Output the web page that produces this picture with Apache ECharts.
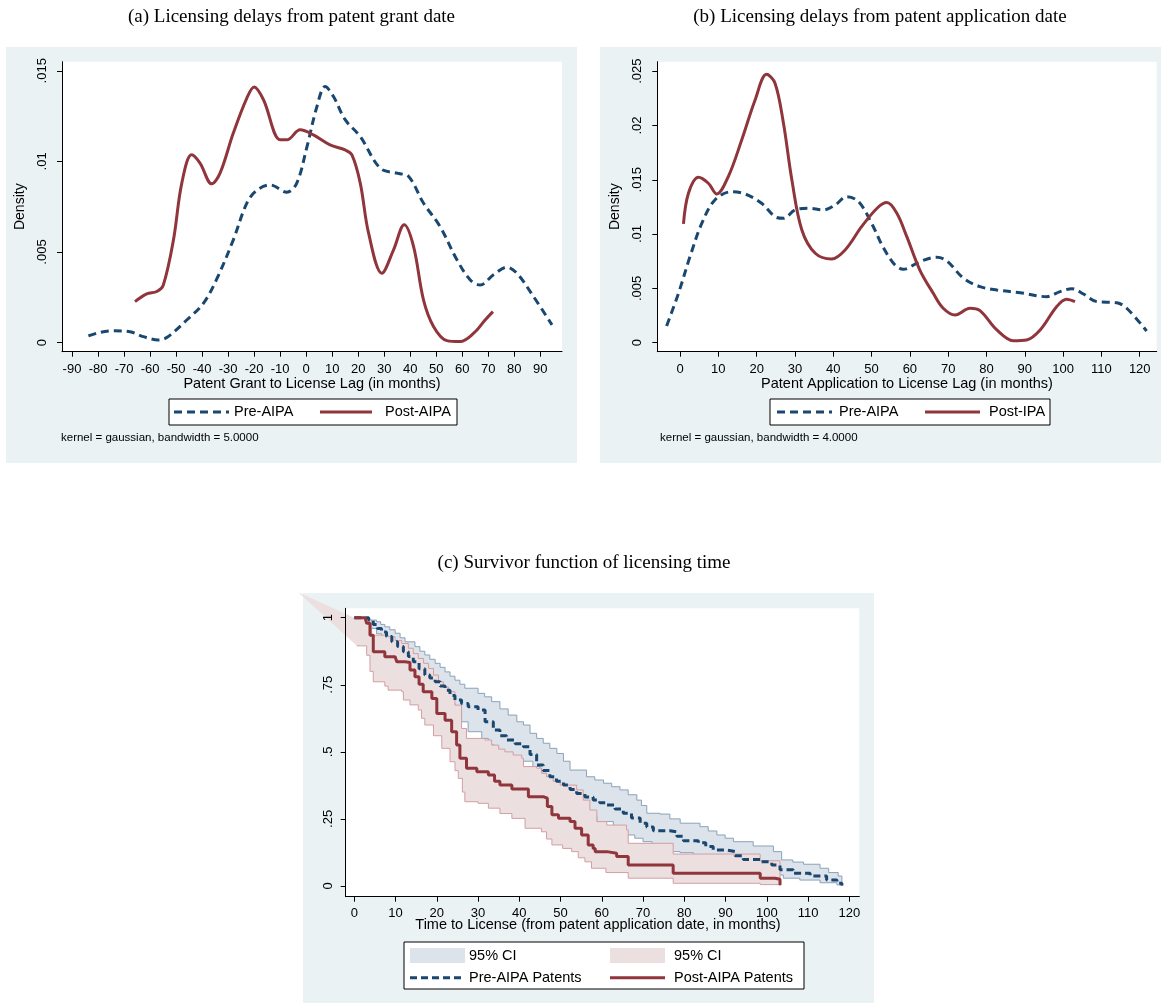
<!DOCTYPE html>
<html><head><meta charset="utf-8">
<script src="https://cdn.jsdelivr.net/npm/echarts@6/dist/echarts.min.js"></script>
<style>html,body{margin:0;padding:0;background:#fff}#c{width:1161px;height:1005px}</style>
</head><body><div id="c"></div><script>
// ---------- tick labels / axis ranges ----------
const aTicksX = [-90,-80,-70,-60,-50,-40,-30,-20,-10,0,10,20,30,40,50,60,70,80,90];
const aTicksY = [0,0.005,0.01,0.015];
const bTicksX = [0,10,20,30,40,50,60,70,80,90,100,110,120];
const bTicksY = [0,0.005,0.01,0.015,0.02,0.025];
const cTicksX = [0,10,20,30,40,50,60,70,80,90,100,110,120];
const cTicksY = [0,0.25,0.5,0.75,1];
const aRangeX = [-93.85, 98.35], aRangeY = [-0.0005, 0.0155];
const bRangeX = [-5.93, 124.43], bRangeY = [-0.00083, 0.02587];
const cRangeX = [-2.085, 122.42], cRangeY = [-0.04, 1.035];

// ---------- (a) kernel densities, grant to license lag ----------
const aPreX  = [-83.7,-79.2,-74.1,-67.7,-62.6,-56.8,-53.6,-45.9,-39.5,-34.4,-28,-22.8,-19,-13.8,-7.4,-3.6,0.3,4.1,7.3,10.5,15,20.8,28.5,34.9,39.4,45.1,51.5,58,63.1,66.9,72,77.2,81,87.4,94.5];
const aPreY  = [0.00037,0.00057,0.00065,0.0006,0.00033,0.00015,0.00028,0.00125,0.00217,0.0035,0.00567,0.0077,0.0084,0.0087,0.0083,0.0088,0.0108,0.013,0.01413,0.01358,0.0123,0.01137,0.00962,0.00935,0.00916,0.0077,0.0064,0.00456,0.00346,0.00318,0.00374,0.00416,0.00383,0.00254,0.00098];
const aPostX = [-65.8,-61.3,-57.4,-54.9,-51,-47.8,-44,-40.8,-36.3,-33.1,-28,-22.8,-20,-16.4,-10,-7.4,-2.3,2.8,9.2,15,17.6,20.8,24,29.1,33.6,37.7,41.3,45.1,49,54.1,59.2,64.4,68.8,71.8];
const aPostY = [0.00226,0.00269,0.00282,0.00318,0.00567,0.0088,0.01036,0.0099,0.00876,0.00935,0.01156,0.01349,0.0141,0.0134,0.01119,0.01119,0.01174,0.01146,0.01091,0.01063,0.01036,0.0088,0.00604,0.00383,0.00512,0.0065,0.0053,0.00236,0.00088,0.00011,0.00006,0.00052,0.00125,0.00171];

// ---------- (b) kernel densities, application to license lag ----------
const bPreX  = [-3.5,-0.4,2.6,5.7,9.1,13.5,17,21.3,24.8,27,30,33.5,37.4,40.5,43.5,46.6,50,53,56,58.3,62.6,67,69.6,74,78.3,82.7,88.8,95.7,99.2,102.3,105.3,108.8,114,116.6,121.8];
const bPreY  = [0.00154,0.00455,0.00792,0.011,0.01314,0.0139,0.01369,0.01284,0.0116,0.01145,0.01222,0.01238,0.01222,0.01268,0.01344,0.01298,0.011,0.0088,0.0072,0.00676,0.00746,0.00786,0.00755,0.00593,0.00516,0.00485,0.0046,0.00424,0.0047,0.00497,0.00448,0.00378,0.00368,0.00317,0.00108];
const bPostX = [0.9,2.2,4.8,7.4,9.6,12.6,16.1,19.6,22.6,24.8,27,29.2,31.8,35.3,39.6,43.1,47.4,51.5,54,56.6,59.2,62.6,66.1,68.7,71.8,75.7,78.3,82.7,87,90.5,94,98.3,100.9,103.1];
const bPostY = [0.01093,0.01376,0.01523,0.01468,0.01369,0.01529,0.01866,0.02235,0.02471,0.02389,0.0202,0.01498,0.01038,0.00823,0.00771,0.00854,0.01068,0.0124,0.0129,0.01192,0.00976,0.00669,0.00455,0.00317,0.00255,0.00317,0.00295,0.00117,0.00018,0.00025,0.00117,0.00331,0.004,0.00378];

// ---------- (c) Kaplan-Meier survivor functions [time, survival] ----------
const cPre = [[0,1],[3.5,0.99],[4.6,0.975],[5.6,0.96],[6.6,0.947],[7.8,0.93],[9.1,0.91],[10.5,0.893],[11.9,0.873],[13.1,0.855],[14.3,0.836],[15.7,0.81],[17.1,0.786],[18.3,0.775],[19.6,0.761],[20.8,0.745],[22,0.73],[23.2,0.71],[24.4,0.693],[26,0.68],[27.6,0.668],[30,0.656],[31.7,0.612],[33.7,0.581],[35.3,0.56],[36.9,0.544],[39,0.53],[41,0.519],[42.6,0.49],[44.2,0.451],[45.8,0.43],[47.4,0.407],[49,0.39],[50.7,0.376],[52.3,0.36],[53.9,0.345],[55.9,0.332],[57.9,0.32],[59.5,0.31],[61.2,0.302],[63.2,0.287],[65.2,0.271],[67.2,0.253],[69.3,0.234],[70.9,0.22],[72.5,0.206],[76.5,0.202],[78.2,0.185],[79.8,0.169],[83.4,0.161],[85.2,0.147],[87,0.134],[90.3,0.128],[92.3,0.113],[94.3,0.099],[98.4,0.09],[101.2,0.078],[103.2,0.06],[106.4,0.047],[110.5,0.037],[114.5,0.022],[117,0.01],[118.2,0.002]];
const cPost = [[0,1],[2.6,0.997],[3,0.979],[3.8,0.935],[4.6,0.873],[7.4,0.854],[9.9,0.851],[10.3,0.836],[12.3,0.833],[13.5,0.805],[14.7,0.78],[15.7,0.752],[16.7,0.724],[18.8,0.699],[20,0.643],[22,0.618],[23.6,0.575],[24.8,0.525],[25.6,0.476],[27.2,0.439],[29.7,0.426],[32.5,0.414],[34,0.39],[35.3,0.376],[38.2,0.361],[42.2,0.333],[45.8,0.327],[46.8,0.296],[47.9,0.265],[49.5,0.252],[52.3,0.24],[53.5,0.215],[55.1,0.19],[56.7,0.153],[57.9,0.14],[58.4,0.128],[61.2,0.122],[63.6,0.11],[66.4,0.078],[77.3,0.047],[98.4,0.029],[102,0.025],[103.2,0.004]];
const cPreUp = [[2.5,0.997],[3,0.991],[5.4,0.985],[6.4,0.975],[7.4,0.966],[8.6,0.955],[9.9,0.942],[11.1,0.925],[12.3,0.91],[14.7,0.892],[15.9,0.875],[17.1,0.861],[18.3,0.845],[19.6,0.83],[20.8,0.815],[22,0.798],[23.2,0.782],[24.4,0.767],[25.6,0.752],[26.8,0.737],[30,0.718],[31.6,0.705],[33.3,0.687],[35.3,0.66],[37.3,0.637],[39.4,0.612],[41,0.6],[42.6,0.569],[44.2,0.55],[45.8,0.532],[47.4,0.513],[49.1,0.494],[50.7,0.465],[52.3,0.432],[56.3,0.407],[58.3,0.395],[60.4,0.383],[62.4,0.37],[64.4,0.358],[66.4,0.34],[68.5,0.32],[69.6,0.3],[70.9,0.271],[74.1,0.268],[76.5,0.25],[79,0.234],[83.8,0.221],[85.8,0.205],[87.9,0.19],[89.9,0.178],[91.9,0.165],[96.7,0.149],[101.6,0.128],[103.6,0.097],[106.3,0.089],[108.9,0.081],[112.9,0.066],[115,0.05],[117.3,0.037],[118.2,0.037]];
const cPreLo = [[2.5,0.975],[4,0.96],[5.4,0.94],[6.6,0.92],[7.8,0.905],[9.1,0.88],[10.5,0.86],[11.9,0.84],[13.1,0.82],[14.3,0.8],[15.7,0.775],[17.1,0.755],[18.3,0.74],[19.6,0.725],[20.8,0.71],[22,0.695],[23.2,0.68],[24.4,0.66],[26,0.612],[27.6,0.575],[30.9,0.55],[32.5,0.525],[34.1,0.5],[36.1,0.488],[38.2,0.476],[40.2,0.465],[43.3,0.445],[45,0.42],[46.6,0.39],[48.5,0.36],[50.7,0.33],[52.7,0.3],[54.7,0.28],[56.7,0.26],[58.8,0.24],[62.8,0.221],[64.4,0.205],[66,0.19],[68,0.178],[70,0.165],[72.2,0.15],[75.7,0.128],[79,0.124],[82.2,0.107],[85.4,0.09],[89.5,0.084],[93.5,0.06],[98.4,0.053],[102.4,0.041],[104,0.029],[108,0.022],[112.9,0.012],[117,0.004],[118.2,0]];
const cPostUp = [[0,1],[3.4,0.991],[4.2,0.935],[8.2,0.929],[9.9,0.915],[11.5,0.904],[13.1,0.886],[14.3,0.866],[15.5,0.848],[16.8,0.83],[18,0.811],[19.2,0.786],[20.4,0.761],[21.6,0.742],[22.8,0.724],[24.4,0.674],[26,0.587],[27.2,0.55],[31.7,0.544],[33.3,0.525],[35,0.51],[36.5,0.5],[38.5,0.488],[40.6,0.476],[41,0.445],[44.2,0.439],[45.4,0.42],[46.6,0.407],[48.2,0.39],[49.9,0.376],[53.9,0.358],[55.5,0.32],[57.1,0.283],[58.8,0.24],[61.2,0.227],[66,0.209],[66.4,0.159],[77.3,0.119],[98.4,0.094],[103.2,0.094]];
const cPostLo = [[0.6,0.895],[3,0.86],[3.8,0.8],[4.6,0.761],[7.4,0.745],[8.2,0.73],[11.5,0.724],[11.9,0.693],[13.5,0.675],[15.5,0.656],[16.3,0.625],[17.1,0.6],[19.2,0.56],[21.2,0.513],[23.2,0.463],[24.4,0.43],[25.2,0.401],[26.2,0.35],[26.8,0.314],[30,0.308],[32.5,0.29],[35.3,0.27],[38.2,0.252],[41.4,0.215],[45.4,0.202],[46.6,0.175],[47.9,0.153],[50.5,0.14],[52.7,0.128],[54.3,0.105],[55.9,0.09],[57.5,0.066],[61,0.05],[66.4,0.029],[77.3,0.01],[98.4,0.005],[103.2,0]];
const cPostCIStray = [-13.6, 1.095];

// ---------- styling ----------
const NAVY = '#1a476f', MAROON = '#90353b', BG = '#eaf2f3';
const SANS = "'Liberation Sans', Arial, sans-serif";
const SERIF = "'Liberation Serif', 'Times New Roman', serif";
const TICK_FS = 13;

const zip = (xs, ys) => xs.map((x, i) => [x, ys[i]]);
const fmtY = v => { if (Math.abs(v) < 1e-12) return '0'; return String(+v.toFixed(4)).replace(/^0\./, '.'); };

function xAxis(gi, range, ticks, margin) {
  return { type: 'value', gridIndex: gi, min: range[0], max: range[1], z: 10,
    axisLine: { onZero: false, lineStyle: { color: '#000', width: 1 } },
    axisTick: { show: true, length: 5, customValues: ticks, lineStyle: { color: '#000', width: 1 } },
    axisLabel: { customValues: ticks, margin: margin, color: '#000', fontSize: TICK_FS, fontFamily: SANS, formatter: v => String(v) },
    splitLine: { show: false } };
}
function yAxis(gi, range, ticks, margin) {
  return { type: 'value', gridIndex: gi, min: range[0], max: range[1], z: 10,
    axisLine: { show: true, onZero: false, lineStyle: { color: '#000', width: 1 } },
    axisTick: { show: true, length: 5, customValues: ticks, lineStyle: { color: '#000', width: 1 } },
    axisLabel: { customValues: ticks, margin: margin, rotate: 90, color: '#000', fontSize: TICK_FS, fontFamily: SANS, formatter: fmtY },
    splitLine: { show: false } };
}
function densLine(gi, name, data, color, dash) {
  return { type: 'line', name, xAxisIndex: gi, yAxisIndex: gi, data, smooth: 0.35, symbol: 'none', silent: true,
    lineStyle: { color, width: 3, type: dash || 'solid', cap: 'butt' }, z: 3 };
}
function stairs(pts) {
  const out = [];
  for (let i = 0; i < pts.length; i++) {
    if (i > 0) out.push([pts[i][0], pts[i - 1][1]]);
    out.push(pts[i]);
  }
  return out;
}
function band(up, lo, stray, fill, stroke, name) {
  return { type: 'custom', name, xAxisIndex: 2, yAxisIndex: 2, clip: false, silent: true, z: 2,
    data: [[0, 0]],
    renderItem: (params, api) => {
      const u = stairs(up).map(p => api.coord(p));
      const l = stairs(lo).map(p => api.coord(p)).reverse();
      const poly = u.concat(l);
      if (stray) poly.push(api.coord(stray));
      return { type: 'group', children: [
        { type: 'polygon', shape: { points: poly }, style: { fill: fill, stroke: null } },
        { type: 'polyline', shape: { points: u.concat(l) }, style: { fill: null, stroke: stroke, lineWidth: 1 } }
      ] };
    } };
}

// ---------- graphic (backgrounds, titles, legends, notes) ----------
function txt(x, y, text, fs, family, align, rot) {
  return { type: 'text', x, y, rotation: rot || 0, z: 50, silent: true,
    style: { text, fontSize: fs, fontFamily: family, fill: '#000', textAlign: align || 'center', textVerticalAlign: 'middle' } };
}
function seg(x1, x2, y, color, dash) {
  return { type: 'line', z: 50, silent: true, shape: { x1, y1: y, x2, y2: y },
    style: { stroke: color, lineWidth: 3, lineDash: dash || null } };
}
function box(x, y, w, h, fill, stroke, z) {
  return { type: 'rect', z: z, silent: true, shape: { x, y, width: w, height: h },
    style: { fill, stroke: stroke || null, lineWidth: 1 } };
}
const graphics = [
  box(6, 47, 571, 416, BG, null, -10),
  box(600, 47, 561, 416, BG, null, -10),
  box(303, 593, 571, 410, BG, null, -10),
  txt(291.5, 17, '(a) Licensing delays from patent grant date', 19, SERIF),
  txt(880, 17, '(b) Licensing delays from patent application date', 19, SERIF),
  txt(584, 563, '(c) Survivor function of licensing time', 19, SERIF),
  txt(20, 206.7, 'Density', 14, SANS, 'center', Math.PI / 2),
  txt(615, 206.7, 'Density', 14, SANS, 'center', Math.PI / 2),
  txt(312, 384, 'Patent Grant to License Lag (in months)', 14.5, SANS),
  txt(907, 384, 'Patent Application to License Lag (in months)', 14.5, SANS),
  txt(598, 925, 'Time to License (from patent application date, in months)', 14.5, SANS),
  // legend (a)
  box(169, 399, 288, 26, '#fff', '#000', 40),
  seg(174, 229, 412, NAVY, [8, 5]), txt(234, 412, 'Pre-AIPA', 14.5, SANS, 'left'),
  seg(320, 372, 412, MAROON), txt(385, 412, 'Post-AIPA', 14.5, SANS, 'left'),
  txt(61, 438, 'kernel = gaussian, bandwidth = 5.0000', 11.5, SANS, 'left'),
  // legend (b)
  box(770, 399, 280, 26, '#fff', '#000', 40),
  seg(777, 832, 412, NAVY, [8, 5]), txt(839, 412, 'Pre-AIPA', 14.5, SANS, 'left'),
  seg(925, 980, 412, MAROON), txt(989, 412, 'Post-IPA', 14.5, SANS, 'left'),
  txt(660, 438, 'kernel = gaussian, bandwidth = 4.0000', 11.5, SANS, 'left'),
  // legend (c)
  box(404, 942, 400, 47, '#fff', '#000', 40),
  box(410, 948, 55, 15, '#dde3ea', null, 45), txt(469, 955.5, '95% CI', 14.5, SANS, 'left'),
  box(610, 948, 55, 15, '#ecdfe0', null, 45), txt(674, 955.5, '95% CI', 14.5, SANS, 'left'),
  seg(410, 465, 977.7, NAVY, [7, 4]), txt(469, 977.7, 'Pre-AIPA Patents', 14.5, SANS, 'left'),
  seg(610, 665, 977.7, MAROON), txt(674, 977.7, 'Post-AIPA Patents', 14.5, SANS, 'left')
];

const option = {
  animation: false,
  backgroundColor: '#fff',
  grid: [
    { left: 62, top: 61.7, width: 500, height: 290, show: true, backgroundColor: '#fff', borderWidth: 0 },
    { left: 657.3, top: 61.7, width: 499.4, height: 290, show: true, backgroundColor: '#fff', borderWidth: 0 },
    { left: 345.7, top: 608.3, width: 513.6, height: 288.4, show: true, backgroundColor: '#fff', borderWidth: 0 }
  ],
  xAxis: [ xAxis(0, aRangeX, aTicksX, 11), xAxis(1, bRangeX, bTicksX, 11), xAxis(2, cRangeX, cTicksX, 10) ],
  yAxis: [ yAxis(0, aRangeY, aTicksY, 13), yAxis(1, bRangeY, bTicksY, 13), yAxis(2, cRangeY, cTicksY, 11) ],
  graphic: graphics,
  series: [
    densLine(0, 'Pre-AIPA', zip(aPreX, aPreY), NAVY, [8, 5]),
    densLine(0, 'Post-AIPA', zip(aPostX, aPostY), MAROON),
    densLine(1, 'Pre-AIPA', zip(bPreX, bPreY), NAVY, [8, 5]),
    densLine(1, 'Post-IPA', zip(bPostX, bPostY), MAROON),
    band(cPreUp, cPreLo, null, '#dde3ea', '#8aa2ba', '95% CI (Pre)'),
    band(cPostUp, cPostLo, cPostCIStray, '#ecdfe0', '#d39ea2', '95% CI (Post)'),
    { type: 'line', name: 'Pre-AIPA Patents', xAxisIndex: 2, yAxisIndex: 2, data: cPre, step: 'end', symbol: 'none', silent: true,
      lineStyle: { color: NAVY, width: 3, type: [7, 4] }, z: 4 },
    { type: 'line', name: 'Post-AIPA Patents', xAxisIndex: 2, yAxisIndex: 2, data: cPost, step: 'end', symbol: 'none', silent: true,
      lineStyle: { color: MAROON, width: 3 }, z: 5 }
  ]
};
const chart = echarts.init(document.getElementById('c'), null, { renderer: 'canvas' });
chart.setOption(option);
</script></body></html>
